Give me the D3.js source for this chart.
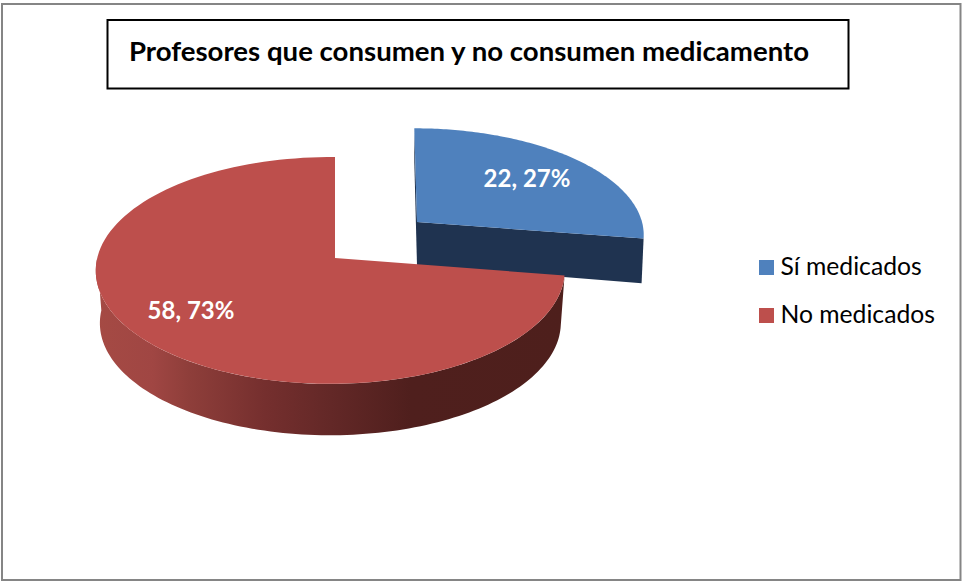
<!DOCTYPE html>
<html lang="es">
<head>
<meta charset="utf-8">
<script src="https://cdn.jsdelivr.net/npm/d3@7"></script>
<style>
  html, body { margin: 0; padding: 0; background: #fff; }
  svg { display: block; }
  text { font-family: Lato, "Open Sans", sans-serif; }
</style>
</head>
<body>
<svg id="chart" width="962" height="581"></svg>
<script>
const titleText = "Profesores que consumen y no consumen medicamento";
const categories = ["Sí medicados", "No medicados"];
const counts = [22, 58];
const percentLabels = ["27%", "73%"];
const faceColors = ["#4f81bd", "#bd4f4c"];
const wallColor = "#1f3350";

const svg = d3.select("#chart");

// Outer frame and title box
svg.append("rect").attr("x", 2).attr("y", 4).attr("width", 958.5).attr("height", 576)
  .attr("fill", "#fff").attr("stroke", "#858585").attr("stroke-width", 2);
svg.append("rect").attr("x", 107.5).attr("y", 20).attr("width", 741).attr("height", 68.5)
  .attr("fill", "#fff").attr("stroke", "#000").attr("stroke-width", 2);
svg.append("text").attr("x", 129).attr("y", 61)
  .attr("font-size", 26).attr("font-weight", 700).attr("fill", "#000")
  .attr("textLength", 680).attr("lengthAdjust", "spacingAndGlyphs")
  .text(titleText);

// Slice angles, clockwise from twelve o'clock in data order
const arcs = d3.pie().sort(null).value(d => d)(counts);

// Maps a unit-disc point to the screen with a slight perspective foreshortening
function discProjection({ox, oy, a, b, k, m = 0, s = 0}) {
  return (radius, angle) => {
    const X = radius * Math.sin(angle);
    const Y = -radius * Math.cos(angle);
    const w = 1 - k * Y + m * X;
    return [ox + (a * X + s * Y) / w, oy + b * Y / w];
  };
}

const redTop = discProjection({ox: 335, oy: 258, a: 233, b: 112, k: 0.11, m: 0.02});
const redBase = discProjection({ox: 335, oy: 310.5, a: 229, b: 111, k: 0.11, m: 0.02});
const blueTop = discProjection({ox: 417, oy: 222, a: 225, b: 104, k: 0.11, s: 3});
const blueBase = discProjection({ox: 417, oy: 265, a: 223, b: 115, k: 0.11, s: 3});

const line = d3.line();
const rimAngles = (from, to, n = 120) => d3.range(n + 1).map(i => from + (to - from) * i / n);

// Top face of a slice: centre, then around the rim
const facePath = (proj, d) =>
  line([proj(0, 0), ...rimAngles(d.startAngle, d.endAngle).map(t => proj(1, t))]) + "Z";

// Vertical wall between a rim stretch on the top face and the same stretch on the base
const wallPath = (top, base, from, to) =>
  line([...rimAngles(from, to).map(t => top(1, t)),
        ...rimAngles(to, from).map(t => base(1, t))]) + "Z";

// Shading along the red slice's curved wall
const defs = svg.append("defs");
const wallShade = defs.append("linearGradient").attr("id", "redWall")
  .attr("gradientUnits", "userSpaceOnUse")
  .attr("x1", 96).attr("x2", 565).attr("y1", 0).attr("y2", 0);
[[0, "#a54a44"], [0.12, "#a04643"], [0.2, "#8e3e3a"], [0.36, "#752f2e"],
 [0.5, "#632827"], [0.67, "#4f1f1d"], [1, "#4e1f1c"]].forEach(([o, c]) =>
  wallShade.append("stop").attr("offset", o).attr("stop-color", c));

const [blue, red] = arcs;

// Exploded blue slice: base walls first, then its face
const blueLayer = svg.append("g");
blueLayer.append("path").attr("fill", wallColor)
  .attr("d", line([blueTop(1, blue.startAngle), blueTop(0, 0), blueBase(0, 0), blueBase(1, blue.startAngle)]) + "Z");
blueLayer.append("path").attr("fill", wallColor)
  .attr("d", line([blueTop(0, 0), blueTop(1, blue.endAngle), blueBase(1, blue.endAngle), blueBase(0, 0)]) + "Z");
blueLayer.append("path").attr("fill", faceColors[0]).attr("d", facePath(blueTop, blue));

// Red slice: curved wall from the tip round to the far left, then its face
const redLayer = svg.append("g");
redLayer.append("path").attr("fill", "url(#redWall)")
  .attr("d", wallPath(redTop, redBase, red.startAngle, Math.PI * 1.5));
redLayer.append("path").attr("fill", faceColors[1]).attr("d", facePath(redTop, red));

// Value labels sitting on the faces
const labelAnchor = [[527, 187], [191, 319]];
svg.append("g").selectAll("text").data(counts).join("text")
  .attr("x", (d, i) => labelAnchor[i][0]).attr("y", (d, i) => labelAnchor[i][1])
  .attr("text-anchor", "middle").attr("font-size", 24).attr("font-weight", 700)
  .attr("fill", "#fff")
  .text((d, i) => `${d}, ${percentLabels[i]}`);

// Legend
const legendY = d3.scalePoint().domain(categories).range([267.5, 315.5]);
const legend = svg.append("g").selectAll("g").data(categories).join("g")
  .attr("transform", d => `translate(759,${legendY(d)})`);
legend.append("rect").attr("y", -7.5).attr("width", 15).attr("height", 15)
  .attr("fill", (d, i) => faceColors[i]);
legend.append("text").attr("x", 21.5).attr("y", 7.5)
  .attr("font-size", 24.7).attr("fill", "#000").text(d => d);
</script>
</body>
</html>
